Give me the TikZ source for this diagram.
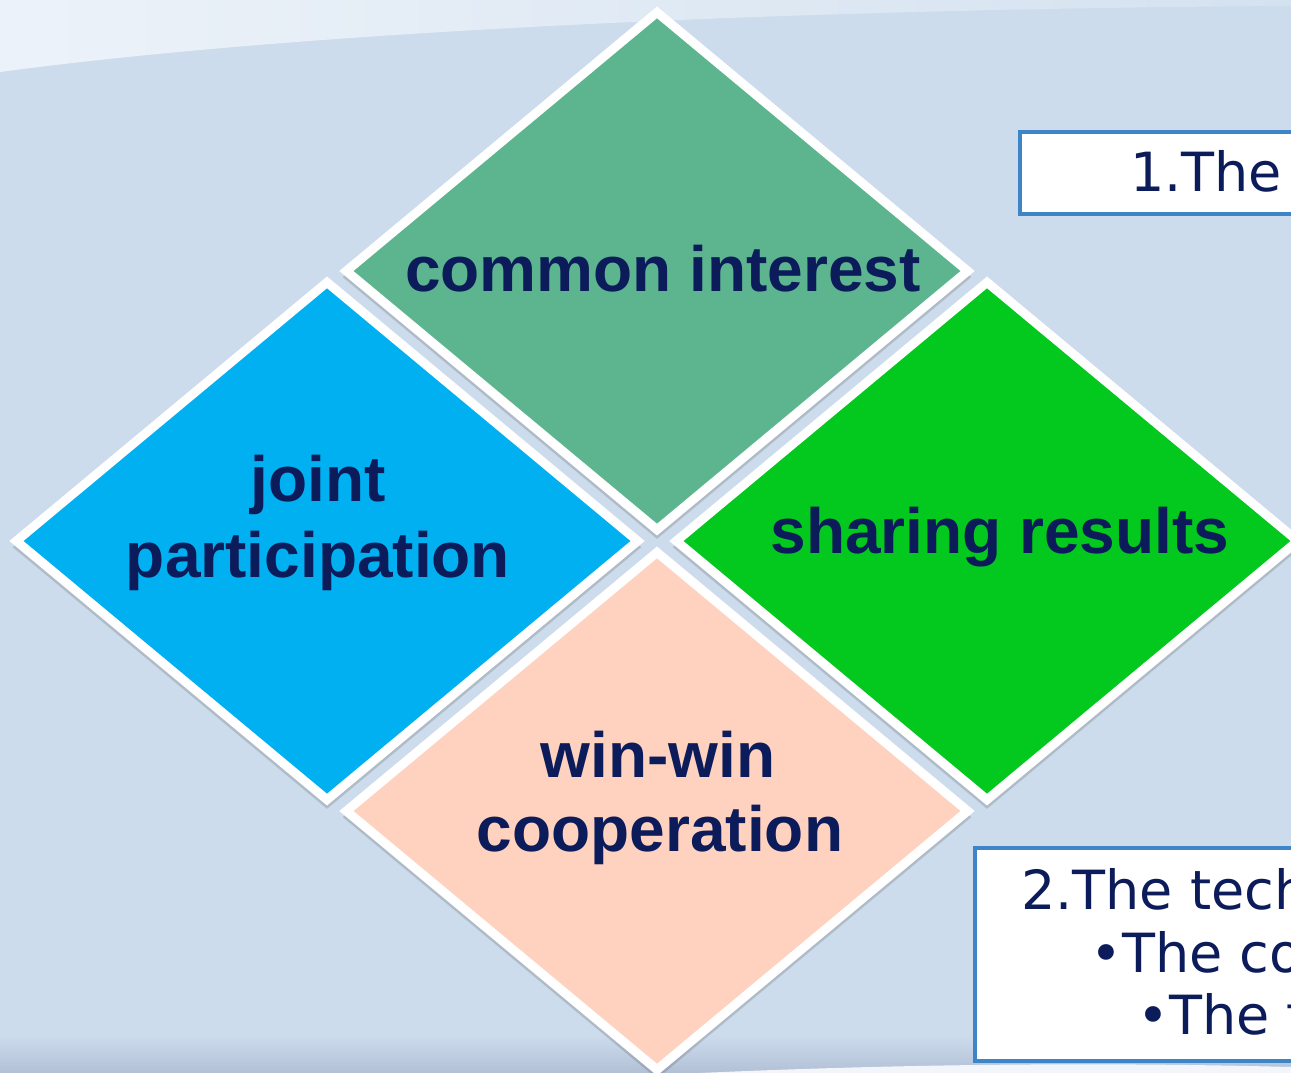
\documentclass[tikz,border=0pt]{standalone}
\usepackage{fontspec}
\setmainfont{DejaVu Sans}
\newfontfamily\labelfont{Liberation Sans}
\usetikzlibrary{shapes.geometric,shadows}
\definecolor{bgblue}{RGB}{204,220,236}
\definecolor{bglight}{RGB}{224,234,245}
\definecolor{bgdark}{RGB}{178,192,214}
\definecolor{ciTeal}{RGB}{93,181,143}
\definecolor{ciBlue}{RGB}{0,176,240}
\definecolor{ciGreen}{RGB}{3,200,30}
\definecolor{ciPeach}{RGB}{255,210,192}
\definecolor{txtnavy}{RGB}{12,27,90}
\definecolor{boxblue}{RGB}{61,133,198}
\tikzset{
  dia/.style={shape=diamond, draw=white, line width=9pt, inner sep=0pt,
    minimum width=625pt, minimum height=521pt,
    drop shadow={shadow xshift=0pt, shadow yshift=-6pt, shadow scale=1.012,
      fill=black!70, opacity=0.22}},
  lbl/.style={font=\labelfont\bfseries\fontsize{64}{77}\selectfont,
    text=txtnavy, anchor=base, inner sep=0pt},
  infobox/.style={draw=boxblue, fill=white, line width=4pt, anchor=north west,
    inner sep=0pt},
  boxtxt/.style={font=\fontsize{54}{62}\selectfont, text=txtnavy,
    anchor=base west, inner sep=0pt}
}
\begin{document}
\begin{tikzpicture}[x=1pt,y=-1pt]
\useasboundingbox (0,0) rectangle (1291,1073);
\clip (0,0) rectangle (1291,1073);
% background
\fill[bgblue] (0,0) rectangle (1291,1073);
\shade[left color=bglight!60!white, right color=bglight!40!bgblue]
  (0,0) -- (1291,0) -- (1291,6) .. controls (900,8) and (350,25) .. (0,72) -- cycle;
\shade[top color=bgblue, bottom color=bgdark] (0,1035) rectangle (1291,1073);
\fill[white!75!bgblue] (700,1073) .. controls (900,1064) and (1100,1062) .. (1291,1067) -- (1291,1073) -- cycle;
% diamonds
\node[dia, fill=ciTeal] (dtop) at (657,271) {};
\node[dia, fill=ciBlue] (dleft) at (327,541) {};
\node[dia, fill=ciGreen] (dright) at (987,541) {};
\node[dia, fill=ciPeach] (dbottom) at (657,811) {};
% labels
\node[lbl] (ltop) at (663,291) {common interest};
\node[lbl] (lleft1) at (318,501) {joint};
\node[lbl] (lleft2) at (318,577) {participation};
\node[lbl] (lright) at (1000,553) {sharing results};
\node[lbl] (lbot1) at (658,777) {win-win};
\node[lbl] (lbot2) at (660,851) {cooperation};
% boxes
\node[infobox, minimum width=320pt, minimum height=82pt] (box1) at (1018,130) {};
\node[infobox, minimum width=360pt, minimum height=213pt] (box2) at (972.5,845.5) {};
\node[boxtxt] (t1) at (1130,191) {1.The};
\node[boxtxt] (t2a) at (1021,909) {2.The tech};
\node[boxtxt] (t2b) at (1090,972) {•The co};
\node[boxtxt] (t2c) at (1137,1034) {•The t};
\end{tikzpicture}
\end{document}
